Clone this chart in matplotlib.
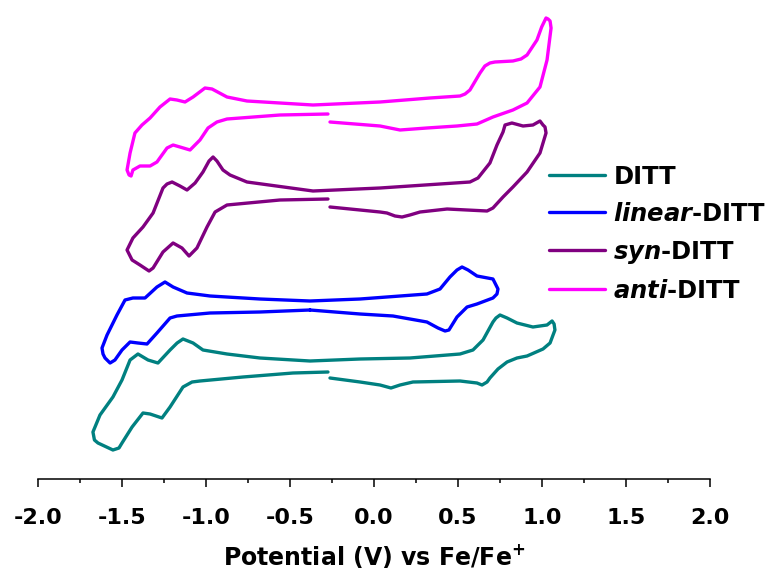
import matplotlib
matplotlib.use("Agg")
import matplotlib.pyplot as plt
from matplotlib.ticker import MultipleLocator, FormatStrFormatter

# Bold sans text everywhere
plt.rcParams['font.family'] = ['DejaVu Sans']
plt.rcParams['font.weight'] = 'bold'
plt.rcParams['axes.unicode_minus'] = False
plt.rcParams['mathtext.fontset'] = 'custom'
plt.rcParams['mathtext.rm'] = 'DejaVu Sans:bold'
plt.rcParams['mathtext.it'] = 'DejaVu Sans:bold:italic'
plt.rcParams['mathtext.bf'] = 'DejaVu Sans:bold'

# Cyclic voltammograms (potential in V vs Fc/Fc+, current in a.u., stacked)
ditt_E = [-0.262, -0.083, 0.036, 0.101, 0.155, 0.232, 0.512, 0.613, 0.643, 0.673, 0.690, 0.738,
          0.792, 0.851, 0.911, 1.006, 1.048, 1.077, 1.072, 1.060, 1.030, 0.946, 0.851, 0.792,
          0.750, 0.726, 0.708, 0.649, 0.589, 0.512, 0.214,
          -0.083, -0.381, -0.679, -0.875, -1.018, -1.077, -1.137, -1.172, -1.214, -1.286, -1.345,
          -1.405, -1.452, -1.500, -1.554, -1.631, -1.673, -1.664, -1.643, -1.554, -1.518, -1.500,
          -1.440, -1.375, -1.333, -1.262, -1.214, -1.137, -1.083, -1.036, -0.780, -0.482, -0.274]
ditt_I = [10.1, 9.7, 9.4, 9.1, 9.4, 9.7, 9.8, 9.6, 9.4, 9.7, 10.1, 11.0,
          11.7, 12.1, 12.3, 13.0, 13.6, 14.9, 15.5, 15.8, 15.4, 15.2, 15.6, 16.1,
          16.4, 16.1, 15.7, 13.9, 12.9, 12.5, 12.1,
          12.0, 11.8, 12.1, 12.5, 12.9, 13.6, 14.0, 13.6, 12.9, 11.6, 11.9,
          12.5, 11.9, 9.9, 8.2, 6.4, 4.7, 3.9, 3.6, 2.9, 3.1, 3.6,
          5.2, 6.6, 6.5, 6.1, 7.2, 9.2, 9.7, 9.8, 10.2, 10.6, 10.7]

linear_E = [-0.381, -0.083, 0.113, 0.315, 0.381, 0.423, 0.446, 0.494, 0.554, 0.613, 0.708, 0.732,
            0.738, 0.708, 0.613, 0.560, 0.524, 0.494, 0.452, 0.393, 0.315, -0.083, -0.381, -0.679,
            -0.976, -1.113, -1.196, -1.244, -1.292, -1.363, -1.435, -1.482, -1.530, -1.589, -1.619,
            -1.613, -1.601, -1.571, -1.542, -1.500, -1.452, -1.405, -1.351, -1.292, -1.214, -1.173,
            -0.976, -0.679, -0.381]
linear_I = [16.9, 16.5, 16.3, 15.7, 15.1, 14.8, 14.9, 16.2, 17.2, 17.5, 18.1, 18.5,
            19.0, 20.0, 20.3, 20.9, 21.2, 20.9, 20.2, 19.0, 18.5, 18.0, 17.8, 18.0,
            18.3, 18.6, 19.2, 19.7, 19.2, 18.1, 18.1, 17.9, 16.4, 14.4, 13.1,
            12.5, 12.1, 11.6, 11.9, 12.9, 13.7, 13.6, 13.5, 14.6, 16.1, 16.3,
            16.6, 16.7, 16.9]

syn_E = [-0.262, 0.036, 0.077, 0.125, 0.167, 0.214, 0.274, 0.435, 0.673, 0.708, 0.768, 0.827,
         0.911, 0.988, 1.024, 1.018, 1.006, 0.988, 0.946, 0.887, 0.821, 0.780, 0.768, 0.732,
         0.690, 0.619, 0.571, 0.036, -0.363, -0.756, -0.857, -0.899, -0.935, -0.958, -0.982,
         -1.018, -1.065, -1.113, -1.155, -1.202, -1.232, -1.256, -1.315, -1.375, -1.435, -1.470,
         -1.440, -1.393, -1.339, -1.315, -1.256, -1.196, -1.143, -1.101, -1.054, -0.994, -0.946,
         -0.875, -0.560, -0.274]
syn_I = [27.2, 26.7, 26.6, 26.3, 26.2, 26.4, 26.7, 27.0, 26.8, 27.1, 28.2, 29.2,
         30.7, 32.6, 34.6, 35.2, 35.4, 35.8, 35.4, 35.3, 35.6, 35.4, 34.7, 33.4,
         31.6, 30.1, 29.7, 29.1, 28.8, 29.7, 30.4, 30.9, 31.8, 32.2, 31.8,
         30.7, 29.6, 28.9, 29.3, 29.7, 29.5, 29.1, 26.6, 25.2, 24.1, 22.9,
         21.9, 21.4, 20.8, 21.1, 22.7, 23.6, 23.1, 22.3, 23.1, 25.2, 26.7,
         27.4, 27.9, 28.0]

anti_E = [-0.262, 0.036, 0.155, 0.315, 0.494, 0.613, 0.708, 0.827, 0.911, 0.988, 1.030, 1.054,
          1.048, 1.036, 1.024, 0.998, 0.970, 0.911, 0.875, 0.827, 0.720, 0.690, 0.660, 0.631,
          0.571, 0.542, 0.512, 0.333, 0.036, -0.363, -0.560, -0.756, -0.875, -0.964, -1.006,
          -1.077, -1.125, -1.173, -1.214, -1.274, -1.333, -1.381, -1.423, -1.452, -1.470, -1.458,
          -1.446, -1.435, -1.393, -1.333, -1.292, -1.232, -1.196, -1.155, -1.095, -1.036, -0.988,
          -0.935, -0.875, -0.560, -0.274]
anti_I = [35.7, 35.3, 34.9, 35.1, 35.3, 35.5, 36.2, 36.9, 37.6, 39.2, 41.9, 45.1,
          45.8, 46.0, 46.1, 45.2, 43.9, 42.4, 42.0, 41.8, 41.7, 41.6, 41.3, 40.6,
          38.9, 38.5, 38.3, 38.1, 37.7, 37.4, 37.6, 37.8, 38.2, 39.0, 39.1,
          38.2, 37.7, 37.9, 38.0, 37.2, 36.1, 35.4, 34.6, 32.6, 30.9, 30.4,
          30.3, 30.9, 31.3, 31.3, 31.7, 33.1, 33.4, 33.2, 32.9, 33.9, 35.1,
          35.7, 36.0, 36.4, 36.5]

labels = ['DITT', r'$\mathit{linear}$-DITT', r'$\mathit{syn}$-DITT', r'$\mathit{anti}$-DITT']
colors = ['#008080', '#0000FF', '#800080', '#FF00FF']

fig = plt.figure(figsize=(7.69, 5.74), dpi=100)
ax = fig.add_axes([38 / 769, 1 - 479 / 574, 672 / 769, 479 / 574])

for E, I, c, lab in zip([ditt_E, linear_E, syn_E, anti_E], [ditt_I, linear_I, syn_I, anti_I], colors, labels):
    ax.plot(E, I, color=c, lw=2.4, label=lab, solid_joinstyle='round', solid_capstyle='round')

ax.set_xlim(-2.0, 2.0)
ax.set_ylim(0, 47.9)
ax.xaxis.set_major_locator(MultipleLocator(0.5))
ax.xaxis.set_minor_locator(MultipleLocator(0.25))
ax.xaxis.set_major_formatter(FormatStrFormatter('%.1f'))
ax.tick_params(axis='x', which='major', direction='out', length=6, width=1.1, labelsize=16, pad=15)
ax.tick_params(axis='x', which='minor', direction='out', length=3, width=1.1)
ax.set_yticks([])
for s in ['left', 'right', 'top']:
    ax.spines[s].set_visible(False)
ax.spines['bottom'].set_linewidth(1.1)
ax.patch.set_visible(False)

ax.set_xlabel(r'Potential (V) vs Fe/Fe$^{+}$', fontsize=17, fontweight='bold', labelpad=10)

ax.legend(loc='upper left', bbox_to_anchor=(549 / 769, 1 - 165 / 574), bbox_transform=fig.transFigure,
          frameon=False, fontsize=17.5, handlelength=2.3, handletextpad=0.35, labelspacing=0.53,
          borderpad=0, borderaxespad=0)

fig.savefig('out.png', dpi=100)
